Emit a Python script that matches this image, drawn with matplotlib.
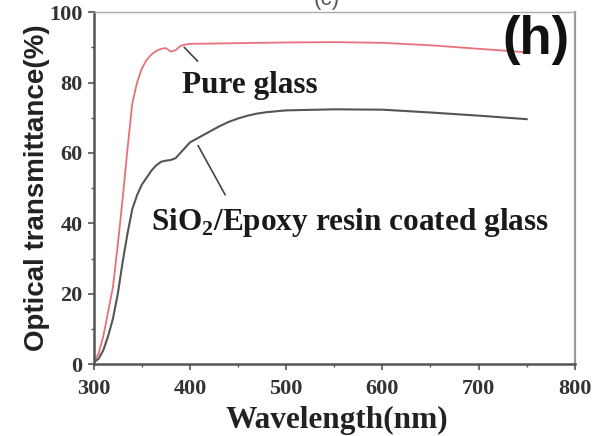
import numpy as np
import matplotlib.pyplot as plt
from matplotlib.ticker import MultipleLocator

plt.rcParams["mathtext.fontset"] = "custom"
plt.rcParams["mathtext.bf"] = "Liberation Serif:bold"
plt.rcParams["mathtext.rm"] = "Liberation Serif"

# DATA
pure_nm = [300, 305, 310, 315, 320, 325, 330, 335, 340, 345, 350, 355, 360, 365, 370,
           375, 380, 385, 390, 395, 400, 450, 500, 550, 600, 650, 700, 750]
pure_T = [0.5, 3, 8, 15, 22, 34, 47, 61, 74, 80, 84, 86.5, 88, 89, 89.6,
          89.8, 88.8, 89.2, 90.4, 90.8, 91.0, 91.2, 91.4, 91.5, 91.3, 90.6, 89.6, 88.6]

coated_nm = [300, 305, 310, 315, 320, 325, 330, 335, 340, 345, 350, 355, 360, 365, 370,
             375, 380, 385, 390, 395, 400, 410, 420, 430, 440, 450, 460, 470, 480,
             500, 550, 600, 650, 700, 750]
coated_T = [0.5, 1.5, 4, 8, 13, 20, 29, 37, 44, 48, 51, 53, 55, 56.5, 57.5,
            57.8, 58, 58.5, 60, 61.5, 63, 64.5, 66, 67.5, 68.8, 69.8, 70.6, 71.2, 71.6,
            72.1, 72.4, 72.3, 71.5, 70.6, 69.6]

x_ticks = [300, 400, 500, 600, 700, 800]
y_ticks = [0, 20, 40, 60, 80, 100]

serif = "Liberation Serif"
sans = "Liberation Sans"

# FIGURE
fig = plt.figure(figsize=(6.05, 4.36), dpi=100)
ax = fig.add_axes([0.155, 0.165, 0.795, 0.807])

ax.plot(pure_nm, pure_T, color="#e8707a", lw=1.3)
ax.plot(coated_nm, coated_T, color="#555555", lw=1.5)

ax.set_xlim(300, 800)
ax.set_ylim(0, 100)
ax.set_xticks(x_ticks)
ax.set_yticks(y_ticks)
ax.xaxis.set_minor_locator(MultipleLocator(50))
ax.yaxis.set_minor_locator(MultipleLocator(10))
ax.tick_params(which="major", direction="out", length=4, width=1.2, color="#555555")
ax.tick_params(which="minor", direction="out", length=2.5, width=1.0, color="#555555")
ax.tick_params(axis="x", which="major", pad=7)
ax.tick_params(axis="y", which="major", pad=4)
for lab in ax.get_xticklabels() + ax.get_yticklabels():
    lab.set_fontfamily(serif)
    lab.set_fontweight("bold")
    lab.set_fontsize(16)
    lab.set_color("#333333")

ax.spines["left"].set_color("#555555")
ax.spines["bottom"].set_color("#555555")
ax.spines["left"].set_linewidth(1.8)
ax.spines["bottom"].set_linewidth(1.8)
ax.spines["top"].set_color("#aaaaaa")
ax.spines["right"].set_color("#999999")
ax.spines["top"].set_linewidth(1.0)
ax.spines["right"].set_linewidth(1.6)

ax.set_xlabel("Wavelength(nm)", fontfamily=serif, fontweight="bold", fontsize=22.5,
              color="#222222")
ax.xaxis.set_label_coords(0.505, -0.12)
ax.set_ylabel("Optical transmittance(%)", fontfamily=sans, fontweight="bold", fontsize=20,
              color="#222222")
ax.yaxis.set_label_coords(-0.092, 0.5)

# Labels with leader lines
ax.annotate("", xy=(392, 90.6), xytext=(410, 85.5),
            arrowprops=dict(arrowstyle="-", color="#444444", lw=1.2))
ax.text(392, 79.3, "Pure glass", fontfamily=serif, fontweight="bold", fontsize=22.5,
        color="#1a1a1a", ha="left", va="center")

ax.annotate("", xy=(407, 62.8), xytext=(438, 47.4),
            arrowprops=dict(arrowstyle="-", color="#444444", lw=1.2))
ax.text(360, 40.3, "SiO$_\\mathbf{2}$/Epoxy resin coated glass", fontfamily=serif,
        fontweight="bold", fontsize=22.5, color="#1a1a1a", ha="left", va="center")

ax.text(0.99, 0.92, "(h)", transform=ax.transAxes, fontfamily=sans, fontweight="bold",
        fontsize=38, color="#111111", ha="right", va="center")

# title of the original figure, cut off at the top edge
fig.text(0.54, 1.0, "(c)", fontfamily=sans, fontsize=16, color="#555555",
         ha="center", va="center")

fig.savefig("out.png", dpi=100)
